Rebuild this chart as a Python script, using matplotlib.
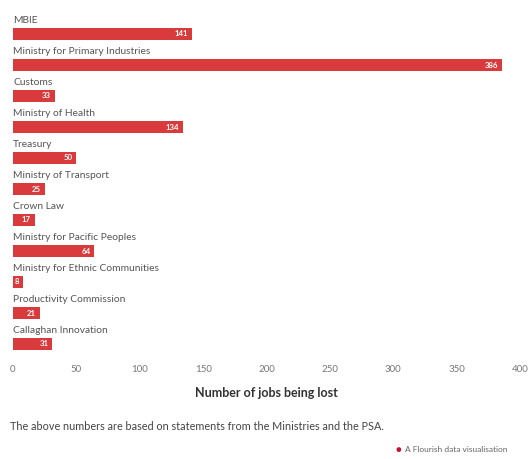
import matplotlib
matplotlib.use("Agg")
import matplotlib.pyplot as plt

# ── Data ──────────────────────────────────────────────────────────────────────
agencies = [
    "MBIE",
    "Ministry for Primary Industries",
    "Customs",
    "Ministry of Health",
    "Treasury",
    "Ministry of Transport",
    "Crown Law",
    "Ministry for Pacific Peoples",
    "Ministry for Ethnic Communities",
    "Productivity Commission",
    "Callaghan Innovation",
]
jobs_lost = [141, 386, 33, 134, 50, 25, 17, 64, 8, 21, 31]
x_ticks = [0, 50, 100, 150, 200, 250, 300, 350, 400]

# ── Style ─────────────────────────────────────────────────────────────────────
BAR_C = "#d93a3c"
TEXT_C = "#555555"
TICK_C = "#777777"
plt.rcParams["font.family"] = ["Lato", "DejaVu Sans"]

W, H = 529, 459
fig = plt.figure(figsize=(W / 100, H / 100), dpi=100)
fig.patch.set_facecolor("white")

# axes placed in pixel terms
top_px, bot_px = 15, 352
ax = fig.add_axes([13 / W, 1 - bot_px / H, 507 / W, (bot_px - top_px) / H])

pitch = 31
first_c = 34
ax.set_ylim((bot_px - first_c) / pitch, (top_px - first_c) / pitch)
ax.set_xlim(0, 400)

ys = list(range(len(agencies)))
ax.barh(ys, jobs_lost, height=0.36, color=BAR_C, zorder=3)

for y, name, val in zip(ys, agencies, jobs_lost):
    ax.text(0, y - 0.42, name, ha="left", va="center", fontsize=7.4, color=TEXT_C)
    ax.text(val - 3, y, str(val), ha="right", va="center", fontsize=5.6,
            fontweight="bold", color="white", zorder=4)

ax.set_yticks([])
ax.set_xticks(x_ticks)
ax.tick_params(axis="x", length=0, labelsize=7, labelcolor=TICK_C, pad=9)
for s in ax.spines.values():
    s.set_visible(False)

ax.set_xlabel("Number of jobs being lost", fontsize=9, fontweight="bold",
              color="#333333", labelpad=10)

fig.text(10 / W, 1 - 426 / H,
         "The above numbers are based on statements from the Ministries and the PSA.",
         ha="left", va="center", fontsize=7.8, color="#444444")

fig.text(398 / W, 1 - 450 / H, "\u25cf", ha="center", va="center",
         fontsize=7, color="#c8102e")
fig.text(405 / W, 1 - 450 / H, "A Flourish data visualisation", ha="left",
         va="center", fontsize=6, color="#666666")

fig.savefig("out.png", dpi=100, facecolor="white")
